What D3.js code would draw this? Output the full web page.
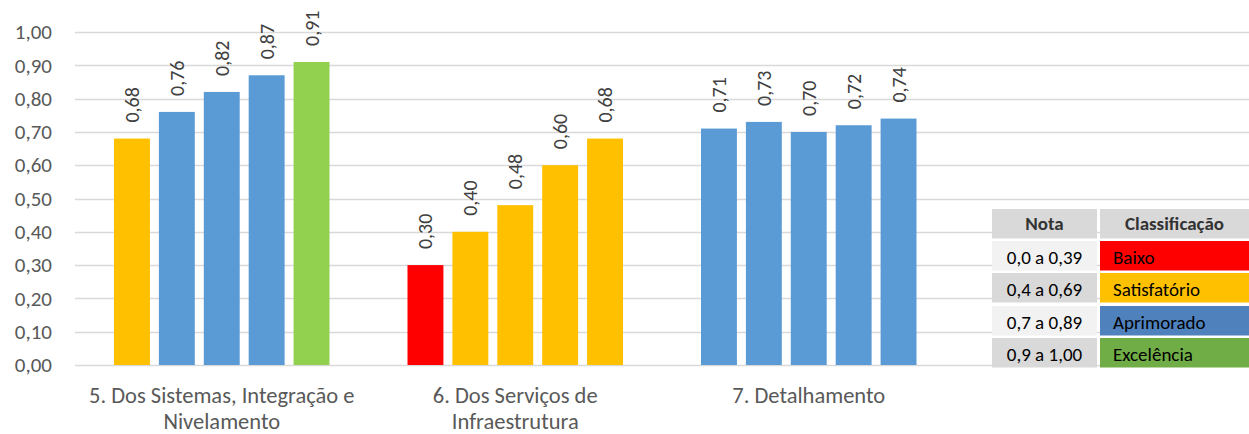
<!DOCTYPE html>
<html lang="pt">
<head>
<meta charset="UTF-8"/>
<title>Notas por item</title>
<script src="https://d3js.org/d3.v7.min.js"></script>
<style>
	body { margin: 0; background: #fff; }
	svg text { font-family: Carlito, Calibri, Lato, "Open Sans", sans-serif; }
</style>
</head>
<body>
<script>
	var w = 1249;	// width of the svg
	var h = 434;	// height of the svg

	// categories (label lines) and the five values of each group
	var categories = ["5", "6", "7", "x"];
	var categoryLines = [
		["5. Dos Sistemas, Integração e", "Nivelamento"],
		["6. Dos Serviços de", "Infraestrutura"],
		["7. Detalhamento"],
		[]
	];
	var values5 = [0.68, 0.76, 0.82, 0.87, 0.91];
	var values6 = [0.30, 0.40, 0.48, 0.60, 0.68];
	var values7 = [0.71, 0.73, 0.70, 0.72, 0.74];
	var groups = [values5, values6, values7, []];

	var yTicks = [0, 0.1, 0.2, 0.3, 0.4, 0.5, 0.6, 0.7, 0.8, 0.9, 1.0];

	// classification table
	var tableHeader = ["Nota", "Classificação"];
	var notaRanges = ["0,0 a 0,39", "0,4 a 0,69", "0,7 a 0,89", "0,9 a 1,00"];
	var classNames = ["Baixo", "Satisfatório", "Aprimorado", "Excelência"];
	var thresholds = [0.4, 0.7, 0.9];
	var barColors = ["#FF0000", "#FFC000", "#5B9BD5", "#92D050"];
	var tableColors = ["#FF0000", "#FFC000", "#4F81BD", "#70AD47"];

	var fmt = function(v) { return d3.format(".2f")(v).replace(".", ","); };

	// plot area edges
	var padL = 75, padR = 1249, padT = 32, padB = 365;

	var x0 = d3.scaleBand().domain(categories).range([padL, padR]);
	var x1 = d3.scaleBand().domain(d3.range(5))
		.range([39, x0.bandwidth() - 39]).paddingInner(0.2);
	var y = d3.scaleLinear().domain([0, 1]).range([padB, padT]);
	var color = d3.scaleThreshold().domain(thresholds).range(barColors);

	var svg = d3.select("body").append("svg")
		.attr("width", w)
		.attr("height", h);

	// grid lines
	svg.append("g")
		.selectAll("line")
		.data(yTicks)
		.enter()
		.append("line")
		.attr("x1", padL)
		.attr("x2", padR)
		.attr("y1", function(d) { return Math.round(y(d)) + 0.5; })
		.attr("y2", function(d) { return Math.round(y(d)) + 0.5; })
		.attr("stroke", "#D9D9D9")
		.attr("stroke-width", 1.5);

	// y axis labels
	var yAxis = d3.axisLeft(y).tickValues(yTicks).tickFormat(fmt).tickSize(0).tickPadding(23);
	var ga = svg.append("g")
		.attr("transform", "translate(" + padL + ",0)")
		.call(yAxis);
	ga.select(".domain").remove();
	ga.selectAll("text")
		.attr("fill", "#595959")
		.style("font-size", "21px");

	// bars
	var g = svg.selectAll(".group")
		.data(groups)
		.enter()
		.append("g")
		.attr("class", "group")
		.attr("transform", function(d, i) { return "translate(" + x0(categories[i]) + ",0)"; });

	g.selectAll("rect")
		.data(function(d) { return d; })
		.enter()
		.append("rect")
		.attr("x", function(d, i) { return x1(i); })
		.attr("width", x1.bandwidth())
		.attr("y", function(d) { return y(d); })
		.attr("height", function(d) { return y(0) - y(d); })
		.attr("fill", function(d) { return color(d); });

	// value labels, rotated
	g.selectAll(".val")
		.data(function(d) { return d; })
		.enter()
		.append("text")
		.attr("class", "val")
		.attr("transform", function(d, i) {
			return "translate(" + (x1(i) + x1.bandwidth() / 2) + "," + (y(d) - 16) + ") rotate(-90)";
		})
		.attr("dy", "0.35em")
		.attr("fill", "#404040")
		.style("font-size", "20px")
		.text(fmt);

	// category labels
	svg.selectAll(".cat")
		.data(categoryLines)
		.enter()
		.append("text")
		.attr("class", "cat")
		.attr("text-anchor", "middle")
		.attr("fill", "#595959")
		.style("font-size", "22.5px")
		.attr("x", function(d, i) { return x0(categories[i]) + x0.bandwidth() / 2; })
		.attr("y", 403)
		.selectAll("tspan")
		.data(function(d) { return d; })
		.enter()
		.append("tspan")
		.attr("x", function() { return d3.select(this.parentNode).attr("x"); })
		.attr("dy", function(d, i) { return i === 0 ? 0 : 26; })
		.text(function(d) { return d; });

	// classification table
	var colX = [992, 1100], colW = [105, 149];
	var rowY = [209, 241, 273, 306, 338], rowH = 29.5;
	var tbl = svg.append("g");

	tbl.selectAll(".hd")
		.data(tableHeader)
		.enter()
		.append("rect")
		.attr("x", function(d, i) { return colX[i]; })
		.attr("y", rowY[0])
		.attr("width", function(d, i) { return colW[i]; })
		.attr("height", rowH)
		.attr("fill", "#D9D9D9");
	tbl.selectAll(".hdt")
		.data(tableHeader)
		.enter()
		.append("text")
		.attr("x", function(d, i) { return colX[i] + colW[i] / 2; })
		.attr("y", rowY[0] + rowH / 2)
		.attr("dy", "0.35em")
		.attr("text-anchor", "middle")
		.attr("fill", "#333333")
		.style("font-size", "19px")
		.style("font-weight", "bold")
		.text(function(d) { return d; });

	tbl.selectAll(".nr")
		.data(notaRanges)
		.enter()
		.append("rect")
		.attr("x", colX[0])
		.attr("y", function(d, i) { return rowY[i + 1]; })
		.attr("width", colW[0])
		.attr("height", rowH)
		.attr("fill", function(d, i) { return i % 2 === 0 ? "#F2F2F2" : "#D9D9D9"; });
	tbl.selectAll(".nrt")
		.data(notaRanges)
		.enter()
		.append("text")
		.attr("x", colX[0] + colW[0] / 2)
		.attr("y", function(d, i) { return rowY[i + 1] + rowH / 2 + 2; })
		.attr("dy", "0.35em")
		.attr("text-anchor", "middle")
		.attr("fill", "#000")
		.style("font-size", "19px")
		.text(function(d) { return d; });

	tbl.selectAll(".cl")
		.data(classNames)
		.enter()
		.append("rect")
		.attr("x", colX[1])
		.attr("y", function(d, i) { return rowY[i + 1]; })
		.attr("width", colW[1])
		.attr("height", rowH)
		.attr("fill", function(d, i) { return tableColors[i]; });
	tbl.selectAll(".clt")
		.data(classNames)
		.enter()
		.append("text")
		.attr("x", colX[1] + 13)
		.attr("y", function(d, i) { return rowY[i + 1] + rowH / 2 + 2; })
		.attr("dy", "0.35em")
		.attr("fill", "#000")
		.style("font-size", "19px")
		.text(function(d) { return d; });
</script>
</body>
</html>
